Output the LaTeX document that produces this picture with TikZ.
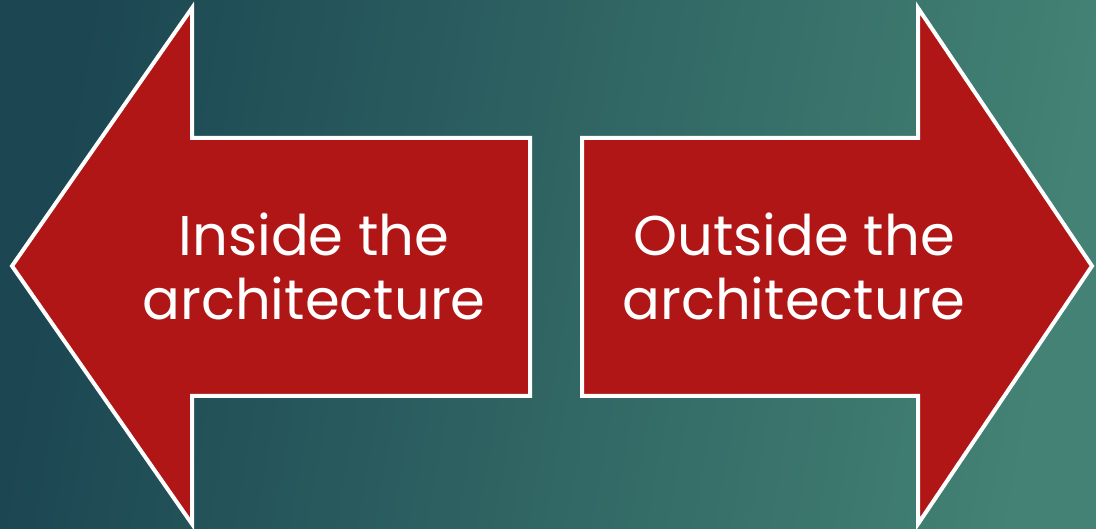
\documentclass[tikz,border=0pt]{standalone}
\usepackage{fontspec}
\setmainfont{Poppins}
\usepackage{xcolor}
\usetikzlibrary{positioning,calc}
\definecolor{Teal}{RGB}{27, 70, 82}
\definecolor{Sea}{RGB}{67, 130, 116}
\definecolor{Brick}{RGB}{175, 22, 21}

\begin{document}
\begin{tikzpicture}[x=1pt,y=1pt,
    arrowshape/.style={fill=Brick, draw=white, line width=4pt, line join=miter},
    arrowtext/.style={text=white, align=center, font=\fontsize{56pt}{64pt}\selectfont}]
    \useasboundingbox (0,0) rectangle (1096,528);
    \shade[left color=Teal, right color=Sea, shading angle=80] (0,0) rectangle (1096,528);
    % left arrow
    \draw[arrowshape] (12,262) -- (192,520) -- (192,390) -- (530,390)
        -- (530,132) -- (192,132) -- (192,4) -- cycle;
    % right arrow
    \draw[arrowshape] (1092,262) -- (918,520) -- (918,390) -- (582,390)
        -- (582,132) -- (918,132) -- (918,4) -- cycle;
    \node[arrowtext] (inside) at (314,262) {Inside the\\architecture};
    \node[arrowtext] (outside) at (794,262) {Outside the\\architecture};
\end{tikzpicture}
\end{document}
